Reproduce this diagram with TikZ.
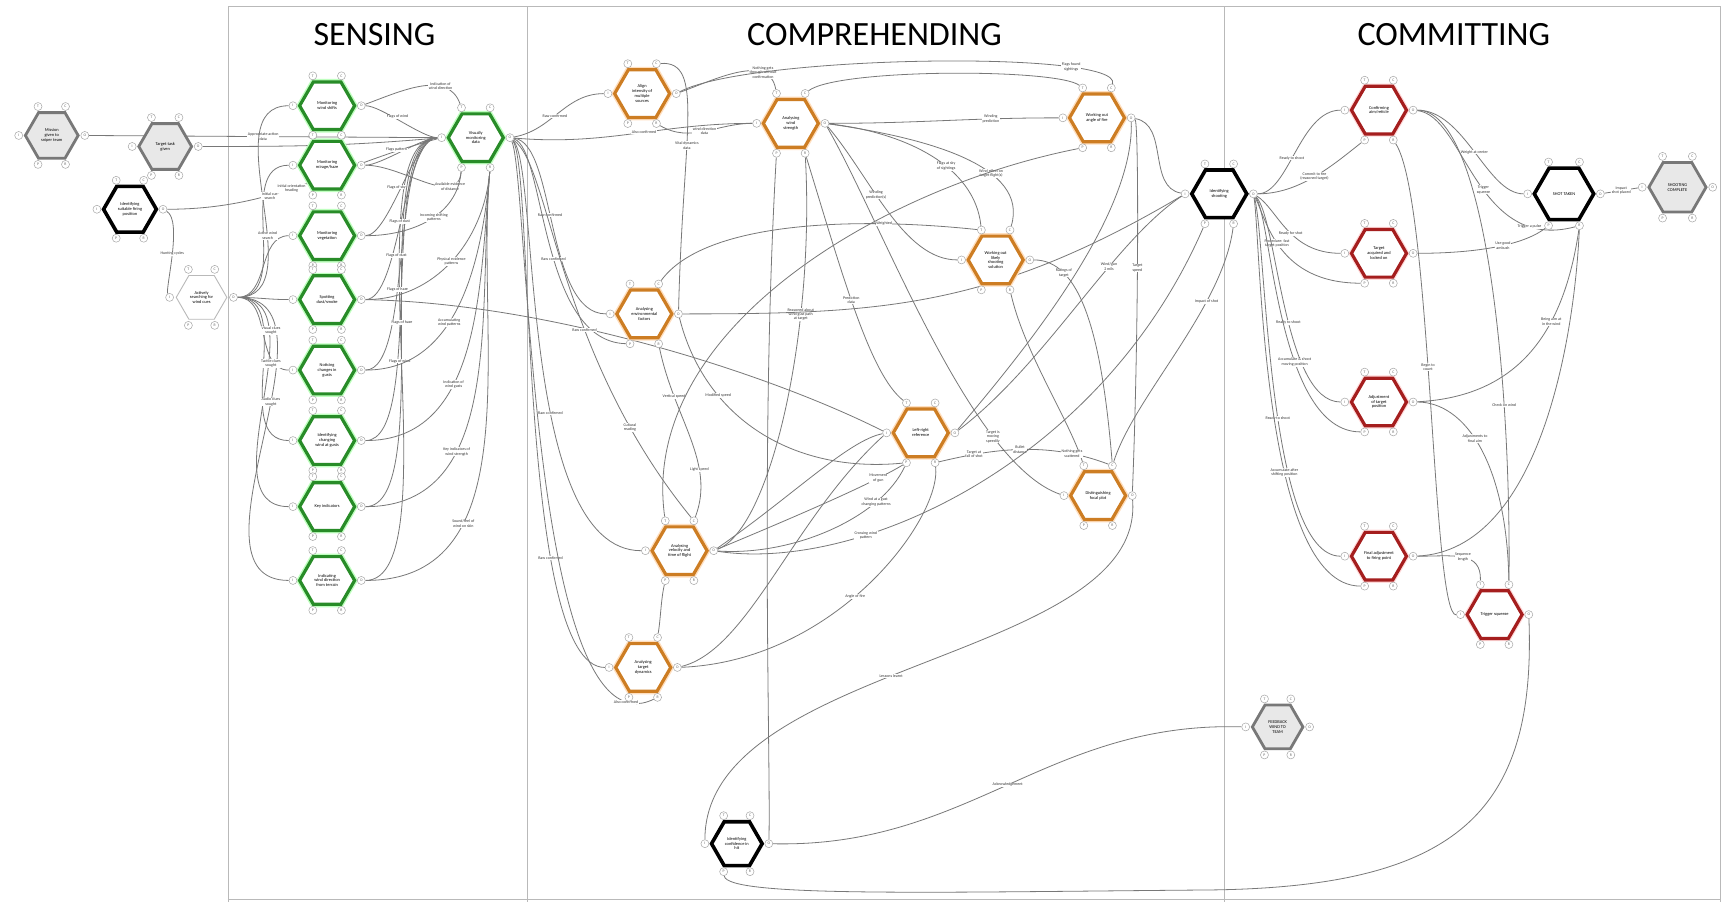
\documentclass[tikz,border=0pt]{standalone}
\usepackage{fontspec}
\setmainfont{Carlito}
\usetikzlibrary{shapes.geometric,calc,backgrounds}
\definecolor{fgreen}{RGB}{40,140,40}
\definecolor{forange}{RGB}{205,125,35}
\definecolor{fred}{RGB}{165,30,30}
\definecolor{fgray}{RGB}{120,120,120}
\definecolor{lgray}{RGB}{232,232,232}
\definecolor{wirec}{RGB}{120,120,120}
\tikzset{
 hexbase/.style={regular polygon, regular polygon sides=6, inner sep=0pt, align=center,
   font=\fontsize{4.4}{4.8}\selectfont, fill=white, line width=3.2pt},
 hgreen/.style={hexbase, draw=fgreen, preaction={draw=green!25, line width=6pt}},
 horange/.style={hexbase, draw=forange, preaction={draw=orange!25, line width=6pt}},
 hred/.style={hexbase, draw=fred, preaction={draw=red!15, line width=5.5pt}},
 hblack/.style={hexbase, draw=black, line width=3.6pt},
 hgray/.style={hexbase, draw=fgray, fill=lgray, line width=2.8pt},
 hpale/.style={hexbase, draw=gray!55, line width=0.9pt},
 aspect/.style={circle, draw=gray!70, fill=white, line width=0.5pt, inner sep=0pt,
   minimum size=8pt, font=\fontsize{3.8}{4}\selectfont, text=gray!80!black},
 wire/.style={draw=wirec, line width=0.8pt},
 lbl/.style={font=\fontsize{4}{4.4}\selectfont, align=center, fill=white, inner sep=0.5pt, text=black!80},
 ttl/.style={font=\fontsize{34}{36}\selectfont, text=black},
 frm/.style={draw=gray!55, line width=0.9pt},
}
\newcommand\framnode[6]{%
 \node[#4, minimum size=#6*2.2pt] (#1) at (#2,#3) {#5};
 \pgfmathsetmacro\hw{#6+6}\pgfmathsetmacro\hx{#6*0.52}\pgfmathsetmacro\hy{#6*0.866+5.5}%
 \node[aspect] (#1-T) at ($(#1.center)+(-\hx,-\hy)$) {T};
 \node[aspect] (#1-C) at ($(#1.center)+(\hx,-\hy)$) {C};
 \node[aspect] (#1-I) at ($(#1.center)+(-\hw,0)$) {I};
 \node[aspect] (#1-O) at ($(#1.center)+(\hw,0)$) {O};
 \node[aspect] (#1-P) at ($(#1.center)+(-\hx,\hy)$) {P};
 \node[aspect] (#1-R) at ($(#1.center)+(\hx,\hy)$) {R};
}
\begin{document}
\begin{tikzpicture}[x=1.1014pt,y=-1.1014pt]
\useasboundingbox (0,0) rectangle (1568,819);
% titles
\node[ttl] (tS) at (340,31) {SENSING};
\node[ttl] (tC) at (794,31) {COMPREHENDING};
\node[ttl] (tM) at (1320,31) {COMMITTING};
% left
\framnode{G1}{47}{123}{hgray}{Mission\\given to\\sniper team}{24}
\framnode{G2}{150}{133}{hgray}{Target task\\given}{24}
\framnode{K1}{118}{190}{hblack}{Identifying\\suitable firing\\position}{24}
\framnode{S1}{183}{270}{hpale}{Actively\\searching for\\wind cues}{23}
% sensing
\framnode{V1}{297}{96}{hgreen}{Monitoring\\wind shifts}{25}
\framnode{V2}{297}{150}{hgreen}{Monitoring\\mirage/haze}{25}
\framnode{V3}{297}{214}{hgreen}{Monitoring\\vegetation}{25}
\framnode{V4}{297}{272}{hgreen}{Spotting\\dust/smoke}{25}
\framnode{V5}{297}{336}{hgreen}{Noticing\\changes in\\gusts}{25}
\framnode{V6}{297}{400}{hgreen}{Identifying\\changing\\wind at gusts}{25}
\framnode{V7}{297}{460}{hgreen}{Key indicators}{25}
\framnode{V8}{297}{527}{hgreen}{Indicating\\wind direction\\from terrain}{25}
\framnode{W}{432}{125}{hgreen}{Visually\\monitoring\\data}{25}
% comprehending
\framnode{O1}{583}{85}{horange}{Align\\intensity of\\multiple\\sources}{25}
\framnode{O2}{718}{112}{horange}{Analysing\\wind\\strength}{25}
\framnode{O3}{996}{107}{horange}{Working out\\angle of fire}{25}
\framnode{O4}{904}{236}{horange}{Working out\\likely\\shooting\\solution}{25}
\framnode{O5}{585}{285}{horange}{Analysing\\environmental\\factors}{25}
\framnode{O6}{836}{393}{horange}{Left-right\\reference}{25}
\framnode{O7}{997}{450}{horange}{Distinguishing\\focal plot}{25}
\framnode{O8}{617}{500}{horange}{Analysing\\velocity and\\time of flight}{25}
\framnode{O9}{584}{606}{horange}{Analysing\\target\\dynamics}{25}
\framnode{K4}{669}{766}{hblack}{Identifying\\confidence in\\hit}{23}
% committing
\framnode{K2}{1107}{176}{hblack}{Identifying\\shooting}{25}
\framnode{R1}{1252}{100}{hred}{Confirming\\aim/reticle}{25}
\framnode{R2}{1252}{230}{hred}{Target\\acquired and\\locked on}{25}
\framnode{R3}{1252}{365}{hred}{Adjustment\\of target\\position}{25}
\framnode{R4}{1252}{505}{hred}{Final adjustment\\to firing point}{25}
\framnode{R5}{1357}{558}{hred}{Trigger squeeze}{25}
\framnode{K3}{1420}{176}{hblack}{SHOT TAKEN}{27}
\framnode{G3}{1523}{170}{hgray}{SHOOTING\\COMPLETE}{26}
\framnode{G4}{1160}{660}{hgray}{FEEDBACK\\WIND TO\\TEAM}{23}
\coordinate (bend) at (1100,808);

\begin{scope}[on background layer]
\fill[white] (0,0) rectangle (1568,819);
\draw[frm] (207,819) -- (207,6) -- (1562,6) -- (1562,819);
\draw[frm] (479,6) -- (479,819);
\draw[frm] (1112,6) -- (1112,819);
\draw[frm] (207,817) -- (1562,817);

% ---- left
\draw[wire] (G1-O) -- node[lbl,pos=.5]{Appropriate action\\data} (W-I);
\draw[wire] (G2-O) to[out=0,in=185] (W-I);
\draw[wire] (K1-O) to[out=0,in=195] node[lbl,pos=.45]{Initial orientation\\heading} (W-I);
\draw[wire] (K1-O) .. controls (166,200) and (150,262) .. node[lbl,pos=.5]{Hunting cycles} (S1-I);
\foreach \i in {1,...,8} {\draw[wire] (S1-O) to[out=0,in=180] (V\i-I);}
\draw (245,178) node[lbl]{Initial cue\\search};
\draw (243,214) node[lbl]{Active wind\\search};
\draw (246,300) node[lbl]{Visual clues\\sought};
\draw (246,330) node[lbl]{Tactile clues\\sought};
\draw (246,365) node[lbl]{Audio clues\\sought};
% ---- sensing to W
\foreach \i in {1,...,8}
  {\draw[wire] (V\i-O) to[out=0,in=180,looseness=.5] (W-I);}
\draw (361,106) node[lbl]{Flags of wind};
\draw (360,136) node[lbl]{Flags pattern};
\draw (360,170) node[lbl]{Flags of sky};
\draw (363,201) node[lbl]{Flags of dust};
\draw (360,232) node[lbl]{Flags of dust};
\draw (361,263) node[lbl]{Flags of haze};
\draw (365,293) node[lbl]{Flags of haze};
\draw (363,328) node[lbl]{Flags of wind};
\draw[wire] (V1-O) to[out=20,in=110] node[lbl,pos=.7]{Indication of\\wind direction} (W-T);
\draw[wire] (V2-O) to[out=0,in=-95] node[lbl,pos=.75]{Available evidence\\of distance} (W-P);
\draw[wire] (V3-O) to[out=0,in=-95] node[lbl,pos=.55]{Incoming shifting\\patterns} (W-P);
\draw[wire] (V4-O) to[out=0,in=-95] node[lbl,pos=.5]{Physical evidence\\patterns} (W-R);
\draw[wire] (V5-O) to[out=0,in=-95] node[lbl,pos=.42]{Accumulating\\wind patterns} (W-R);
\draw[wire] (V6-O) to[out=0,in=-95] node[lbl,pos=.38]{Indication of\\wind gusts} (W-R);
\draw[wire] (V7-O) to[out=0,in=-95] node[lbl,pos=.33]{Key indicators of\\wind strength} (W-R);
\draw[wire] (V8-O) to[out=0,in=-95] node[lbl,pos=.3]{Sound/feel of\\wind on skin} (W-R);
\draw[wire] (V4-O) .. controls (500,275) and (700,340) .. (O6-I);
% ---- W fan
\draw[wire] (W-O) to[out=10,in=180] node[lbl,pos=.45]{Raw confirmed} (O1-I);
\draw[wire] (W-O) to[out=-5,in=180] node[lbl,pos=.55]{Also confirmed} (O2-I);
\draw[wire] (W-O) .. controls (505,130) and (495,285) .. node[lbl,pos=.45]{Raw confirmed} (O5-I);
\draw[wire] (W-O) .. controls (495,135) and (490,310) .. node[lbl,pos=.55]{Raw confirmed} (O5-P);
\draw[wire] (W-O) .. controls (500,150) and (505,320) .. node[lbl,pos=.62]{Raw confirmed} node[lbl,pos=.82]{Cultural\\reading} (O8-C);
\draw[wire] (W-O) .. controls (490,150) and (470,500) .. node[lbl,pos=.6]{Raw confirmed} (O8-I);
\draw[wire] (W-O) .. controls (485,150) and (470,606) .. node[lbl,pos=.7]{Raw confirmed} (O9-I);
\draw[wire] (W-O) .. controls (480,160) and (480,690) .. node[lbl,pos=.92]{Also confirmed} (O9-R);
% ---- O1
\draw[wire] (O1-O) to[out=20,in=100] node[lbl,pos=.75]{Nothing gets\\through without\\confirmation} (O2-T);
\draw[wire] (O1-C) .. controls (640,55) and (620,120) .. node[lbl,pos=.6]{Vital dynamics\\data} (O5-O);
\draw[wire] (O1-R) to[out=-30,in=180] node[lbl,pos=.5]{wind direction\\data} (O2-I);
\draw[wire] (O1-O) .. controls (680,50) and (1020,45) .. node[lbl,pos=.78]{Flags found\\sightings} (O3-C);
\draw[wire] (O2-C) .. controls (760,62) and (960,62) .. (O3-T);
% ---- O2
\draw[wire] (O2-O) to[out=0,in=180] node[lbl,pos=.72]{Winding\\prediction} (O3-I);
\draw[wire] (O2-O) .. controls (820,120) and (885,150) .. node[lbl,pos=.6]{Flags at sky\\of sightings} (O4-T);
\draw[wire] (O2-O) .. controls (840,125) and (935,150) .. node[lbl,pos=.65]{Wind effect on\\target flight(s)} (O4-C);
\draw[wire] (O2-O) .. controls (790,160) and (820,236) .. node[lbl,pos=.4]{Winding\\prediction(s)} (O4-I);
\draw[wire] (O2-O) .. controls (800,200) and (880,420) .. node[lbl,pos=.75]{Target is\\moving\\speedily} (O7-I);
\draw[wire] (O2-P) .. controls (690,400) and (700,700) .. (K4-O);
\draw[wire] (O2-R) .. controls (740,300) and (700,480) .. node[lbl,pos=.3]{Reasoned about\\wind gust path\\at target} (O8-O);
\draw[wire] (O2-R) .. controls (765,250) and (790,340) .. node[lbl,pos=.45]{Prediction\\data} (O6-T);
% ---- O3
\draw[wire] (O3-O) .. controls (1034,110) and (1034,300) .. node[lbl,pos=.55]{Target\\speed} (O7-O);
\draw[wire] (O3-O) .. controls (1030,200) and (920,330) .. (O6-O);
\draw[wire] (O3-O) to[out=-10,in=170] (K2-I);
% ---- O4
\draw[wire] (O4-O) .. controls (980,236) and (1000,300) .. node[lbl,pos=.25]{Ratings of\\target} (O7-C);
\draw[wire] (O4-R) .. controls (930,320) and (970,380) .. (O7-T);
\draw[wire] (O5-C) .. controls (640,200) and (780,197) .. node[lbl,pos=.75]{Weighted} (O4-T);
% ---- O5
\draw[wire] (O5-O) .. controls (800,285) and (900,280) .. node[lbl,pos=.62]{Distance\\fire} (K2-I);
\draw[wire] (O5-O) .. controls (640,380) and (720,430) .. node[lbl,pos=.3]{Modified speed} (O6-P);
\draw[wire] (O5-R) .. controls (612,380) and (650,420) .. node[lbl,pos=.25]{Vertical speed} node[lbl,pos=.7]{Light speed} (O8-C);
% ---- O6
\draw[wire] (O6-O) .. controls (950,330) and (1010,220) .. node[lbl,pos=.65]{Wind/gun\\2 mils} (K2-I);
\draw[wire] (O6-R) .. controls (900,408) and (950,400) .. node[lbl,pos=.22]{Target at\\fall of shot} node[lbl,pos=.5]{Bullet\\distance} node[lbl,pos=.8]{Nothing gets\\scattered} (O7-C);
\draw[wire] (O8-O) .. controls (720,470) and (790,440) .. node[lbl,pos=.8]{Movement\\of gun} (O6-P);
\draw[wire] (O8-O) .. controls (720,450) and (770,400) .. (O6-I);
\draw[wire] (O6-P) .. controls (800,470) and (720,505) .. node[lbl,pos=.25]{Wind at a gust\\changing patterns} (O8-O);
\draw[wire] (O8-O) .. controls (780,520) and (1000,420) .. node[lbl,pos=.3]{Crossing wind\\pattern} (K2-P);
\draw[wire] (O6-R) .. controls (855,470) and (760,600) .. node[lbl,pos=.55]{Angle of fire} (O9-O);
% ---- O7 / O8 / O9
\draw[wire] (O7-O) .. controls (1040,600) and (640,600) .. node[lbl,pos=.55]{Lessons learnt} (K4-I);
\draw[wire] (O8-T) .. controls (580,300) and (800,170) .. (O3-P);
\draw[wire] (O9-O) .. controls (680,590) and (720,470) .. (O6-I);
\draw[wire] (O9-C) .. controls (600,560) and (600,545) .. (O8-P);
\draw[wire] (K2-R) .. controls (1110,280) and (1030,360) .. node[lbl,pos=.3]{Impact of shot} (O7-C);
% ---- bottom
\draw[wire] (G4-I) .. controls (950,655) and (880,770) .. node[lbl,pos=.5]{Acknowledgement} (K4-O);
\draw[wire] (R5-O) .. controls (1395,740) and (1320,805) .. (bend) .. controls (850,810) and (660,815) .. (K4-P);
% ---- K2 fan
\draw[wire] (K2-O) .. controls (1170,176) and (1180,100) .. node[lbl,pos=.45]{Ready to shoot} (R1-I);
\draw[wire] (K2-O) .. controls (1180,176) and (1210,150) .. node[lbl,pos=.5]{Commit to fire\\(reasoned target)} (R1-P);
\draw[wire] (K2-O) .. controls (1160,190) and (1170,230) .. node[lbl,pos=.55]{Ready for shot} (R2-I);
\draw[wire] (K2-O) .. controls (1150,200) and (1160,257) .. node[lbl,pos=.45]{Procedure: fast\\target position} (R2-P);
\draw[wire] (K2-O) .. controls (1160,200) and (1165,365) .. node[lbl,pos=.55]{Ready to shoot} (R3-I);
\draw[wire] (K2-O) .. controls (1155,200) and (1160,392) .. node[lbl,pos=.62]{Accumulate \& shoot\\moving position} (R3-P);
\draw[wire] (K2-O) .. controls (1150,220) and (1150,505) .. node[lbl,pos=.55]{Ready to shoot} (R4-I);
\draw[wire] (K2-O) .. controls (1145,220) and (1145,532) .. node[lbl,pos=.62]{Accumulate after\\shifting position} (R4-P);
% ---- right
\draw[wire] (R1-O) .. controls (1330,100) and (1350,176) .. node[lbl,pos=.5]{Weight at center} (K3-I);
\draw[wire] (R1-O) .. controls (1330,105) and (1340,230) .. node[lbl,pos=.55]{Trigger\\squeeze} node[lbl,pos=.82]{Trigger a pulse} (K3-R);
\draw[wire] (R2-O) .. controls (1330,230) and (1380,225) .. node[lbl,pos=.6]{Use good\\ambush} (K3-P);
\draw[wire] (R1-R) .. controls (1300,180) and (1300,560) .. node[lbl,pos=.45]{Begin to\\count} (R5-I);
\draw[wire] (R1-O) .. controls (1350,100) and (1372,350) .. node[lbl,pos=.72]{Check on wind} (R5-C);
\draw[wire] (R3-O) .. controls (1330,365) and (1368,420) .. node[lbl,pos=.45]{Adjustments to\\final aim} (R5-C);
\draw[wire] (R4-O) .. controls (1320,505) and (1345,500) .. node[lbl,pos=.5]{Sequence\\length} (R5-T);
\draw[wire] (R3-O) .. controls (1380,360) and (1420,300) .. node[lbl,pos=.65]{Being aim at\\in the wind} (K3-R);
\draw[wire] (R4-O) .. controls (1400,500) and (1430,300) .. (K3-R);
\draw[wire] (K3-O) -- node[lbl,pos=.5]{Impact\\shot placed} (G3-I);
\end{scope}
\end{tikzpicture}
\end{document}
